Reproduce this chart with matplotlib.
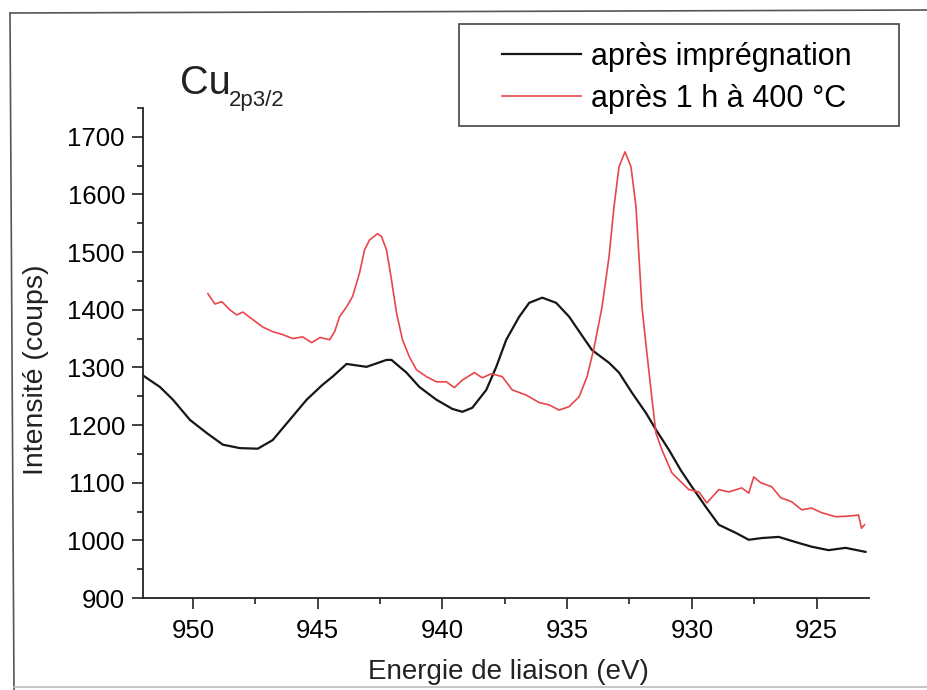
import matplotlib
matplotlib.use("Agg")
import matplotlib.pyplot as plt
from matplotlib.lines import Line2D
from matplotlib.patches import Rectangle
from matplotlib.ticker import MultipleLocator

plt.rcParams['font.family'] = ['Liberation Sans', 'DejaVu Sans']

# values
energy_imp = [952.0, 951.32, 950.8, 950.12, 949.44, 948.8, 948.12, 947.4, 946.8, 946.12,
              945.44, 944.8, 944.4, 943.84, 943.04, 942.24, 942.04, 941.44, 940.92, 940.24,
              939.6, 939.2, 938.8, 938.24, 937.84, 937.44, 936.92, 936.52, 936.0, 935.44,
              934.92, 934.4, 934.0, 933.32, 932.92, 932.4, 931.84, 931.44, 930.92, 930.45,
              930.0, 929.44, 928.92, 928.24, 927.72, 927.2, 926.52, 925.84, 925.2, 924.52,
              923.84, 923.04]
counts_imp = [1286, 1266, 1244, 1209, 1186, 1166, 1160, 1159, 1174, 1209,
              1244, 1270, 1284, 1306, 1301, 1313, 1313, 1291, 1266, 1244,
              1228, 1223, 1230, 1261, 1301, 1348, 1388, 1412, 1421, 1412,
              1388, 1355, 1330, 1308, 1291, 1256, 1221, 1192, 1157, 1122,
              1093, 1058, 1027, 1013, 1001, 1004, 1006, 997, 989, 983,
              987, 980]

energy_400 = [949.4, 949.12, 948.84, 948.52, 948.24, 948.0, 947.6, 947.2, 946.8, 946.4,
              946.0, 945.6, 945.24, 944.9, 944.52, 944.32, 944.12, 943.84, 943.6, 943.32,
              943.12, 942.92, 942.6, 942.44, 942.24, 942.04, 941.84, 941.6, 941.32, 941.04,
              940.64, 940.24, 939.84, 939.52, 939.2, 938.72, 938.4, 938.04, 937.6, 937.2,
              936.64, 936.12, 935.72, 935.32, 934.92, 934.52, 934.2, 933.92, 933.6, 933.32,
              933.12, 932.92, 932.68, 932.44, 932.24, 932.12, 932.0, 931.84, 931.64, 931.44,
              931.2, 930.8, 930.45, 930.12, 929.72, 929.4, 928.92, 928.52, 928.0, 927.72,
              927.52, 927.24, 926.8, 926.44, 926.0, 925.6, 925.2, 924.8, 924.24, 923.72,
              923.32, 923.2, 923.08]
counts_400 = [1428, 1410, 1414, 1400, 1391, 1396, 1383, 1370, 1362, 1357,
              1350, 1353, 1343, 1352, 1348, 1362, 1388, 1405, 1423, 1464,
              1504, 1521, 1532, 1527, 1504, 1452, 1395, 1348, 1318, 1296,
              1284, 1275, 1275, 1265, 1278, 1291, 1282, 1289, 1284, 1261,
              1252, 1239, 1235, 1226, 1232, 1249, 1284, 1334, 1405, 1492,
              1579, 1648, 1674, 1648, 1579, 1492, 1405, 1340, 1261, 1186,
              1157, 1117, 1102, 1088, 1084, 1065, 1088, 1084, 1091, 1082,
              1110, 1100, 1093, 1074, 1067, 1053, 1056, 1048, 1041, 1042,
              1044, 1021, 1027]

labels = ["après imprégnation", "après 1 h à 400 °C"]

W, H = 928, 690
fig = plt.figure(figsize=(9.28, 6.9), dpi=100)
ax = fig.add_axes([143 / W, 1 - 598 / H, (869 - 143) / W, (598 - 108) / H])

ax.plot(energy_imp, counts_imp, color='#161616', lw=1.6, label=labels[0])
ax.plot(energy_400, counts_400, color='#e8464b', lw=1.2, label=labels[1])

ax.set_xlim(952, 922.9)
ax.set_ylim(900, 1750)
ax.xaxis.set_major_locator(MultipleLocator(5))
ax.xaxis.set_minor_locator(MultipleLocator(2.5))
ax.yaxis.set_major_locator(MultipleLocator(100))
ax.yaxis.set_minor_locator(MultipleLocator(50))

for s in ['top', 'right']:
    ax.spines[s].set_visible(False)
for s in ['left', 'bottom']:
    ax.spines[s].set_linewidth(1.3)
    ax.spines[s].set_color('#222222')

ax.tick_params(which='major', length=8, width=1.2, color='#222222', labelsize=18.5)
ax.tick_params(which='minor', length=4.5, width=1.2, color='#222222')
ax.tick_params(axis='x', pad=7)
ax.tick_params(axis='y', pad=5)

ax.set_xlabel("Energie de liaison (eV)", fontsize=20, color='#222222')
ax.xaxis.label.set_va('baseline')
ax.xaxis.set_label_coords(0.503, -0.165)
ax.set_ylabel("Intensité (coups)", fontsize=20.5, color='#222222')
ax.yaxis.label.set_va('center')
ax.yaxis.set_label_coords(-0.148, 0.465)

# title Cu 2p3/2
fig.text(180 / W, 1 - 94 / H, "Cu", fontsize=28.5, va='baseline', ha='left', color='#222222')
fig.text(229 / W, 1 - 106 / H, "2p3/2", fontsize=16, va='baseline', ha='left', color='#222222')

# legend box
fig.add_artist(Rectangle((459 / W, 1 - 126 / H), 440 / W, 102 / H, transform=fig.transFigure,
                         fill=False, edgecolor='#444444', lw=1.2))
handles = [Line2D([], [], color='#161616', lw=1.6), Line2D([], [], color='#e8464b', lw=1.2)]
fig.legend(handles, labels, loc='upper left', bbox_to_anchor=(502 / W, 1 - 42 / H),
           frameon=False, fontsize=22, handlelength=2.6, handletextpad=0.3,
           labelspacing=0.38, borderpad=0, borderaxespad=0)

# scanned page border
fig.add_artist(Line2D([10 / W, 1], [1 - 13 / H, 1 - 10 / H], transform=fig.transFigure,
                      color='#555555', lw=1.2))
fig.add_artist(Line2D([10 / W, 14 / W], [1 - 13 / H, 0], transform=fig.transFigure,
                      color='#555555', lw=1.2))
fig.add_artist(Line2D([14 / W, 1], [1 - 687 / H, 1 - 687 / H], transform=fig.transFigure,
                      color='#bbbbbb', lw=1.2))

fig.savefig("out.png", dpi=100)
